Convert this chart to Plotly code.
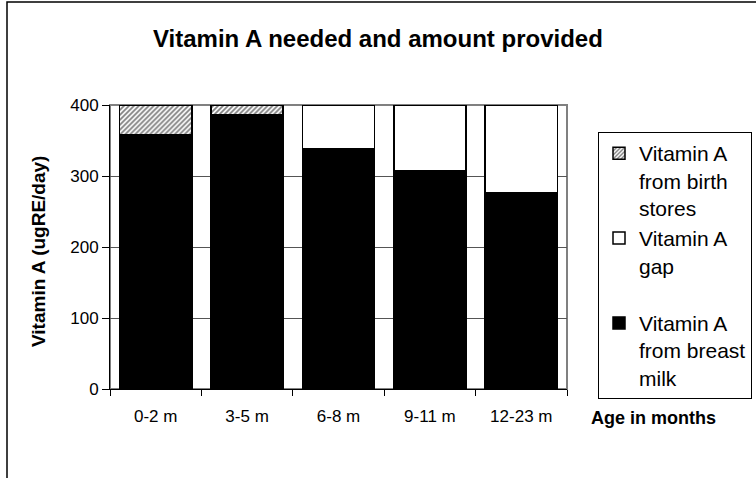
import plotly.graph_objects as go

categories = ["0-2 m", "3-5 m", "6-8 m", "9-11 m", "12-23 m"]
breast_milk = [358, 386, 338, 308, 276]
birth_stores = [42, 14, 0, 0, 0]
vit_gap = [0, 0, 62, 92, 124]
y_ticks = [0, 100, 200, 300, 400]

FONT = "Liberation Sans, Arial, sans-serif"
W, H = 756, 478
L, R, T, B = 110, 189, 105, 89
pw = W - L - R
ph = H - T - B

def px_x(px):
    return (px - L) / pw

def px_y(py):
    return (H - B - py) / ph

fig = go.Figure()
fig.add_trace(go.Bar(
    x=categories, y=breast_milk,
    name="Vitamin A<br>from breast<br>milk",
    marker=dict(color="black", line=dict(color="black", width=1.5)),
))
fig.add_trace(go.Bar(
    x=categories, y=vit_gap, name="Vitamin A<br>gap<br> ",
    marker=dict(color="white", line=dict(color="black", width=1.5)),
))
fig.add_trace(go.Bar(
    x=categories, y=birth_stores, name="Vitamin A<br>from birth<br>stores",
    marker=dict(color="white", line=dict(color="black", width=1.5),
                pattern=dict(shape="/", size=3.5, solidity=0.5,
                             fgcolor="black", bgcolor="white")),
))

fig.update_layout(
    width=W, height=H,
    margin=dict(l=L, r=R, t=T, b=B, autoexpand=False),
    barmode="stack", bargap=0.21,
    paper_bgcolor="white", plot_bgcolor="white",
    font=dict(family=FONT, size=17, color="black"),
    showlegend=True,
    legend=dict(
        x=px_x(598), y=px_y(132), xanchor="left", yanchor="top",
        xref="paper", yref="paper",
        traceorder="reversed", valign="top",
        bgcolor="white", bordercolor="black", borderwidth=1,
        font=dict(family=FONT, size=21, color="black"),
        tracegroupgap=0,
    ),
    xaxis=dict(
        type="category", showline=True, linecolor="black", linewidth=1,
        ticks="outside", ticklen=6, tickcolor="black", tickson="boundaries",
        showgrid=False, tickfont=dict(size=17), ticklabelstandoff=12,
    ),
    yaxis=dict(
        range=[0, 400], tickvals=y_ticks, showline=True, linecolor="black",
        linewidth=1, ticks="outside", ticklen=7, tickcolor="black",
        showgrid=True, gridcolor="#555555", gridwidth=1, zeroline=False,
        tickfont=dict(size=17),
    ),
    shapes=[
        dict(type="rect", xref="paper", yref="paper", x0=0, x1=1, y0=0, y1=1,
             line=dict(color="#808080", width=2), layer="below"),
        dict(type="rect", xref="paper", yref="paper",
             x0=px_x(7), x1=px_x(770), y0=px_y(490), y1=px_y(2),
             line=dict(color="black", width=1.5), fillcolor="rgba(0,0,0,0)",
             layer="above"),
    ],
    annotations=[
        dict(text="<b>Vitamin A needed and amount provided</b>",
             xref="paper", yref="paper", x=px_x(378), y=px_y(38),
             xanchor="center", yanchor="middle", showarrow=False,
             font=dict(size=24, family=FONT, color="black")),
        dict(text="<b>Vitamin A (ugRE/day)</b>", textangle=-90,
             xref="paper", yref="paper", x=px_x(38), y=px_y(252),
             xanchor="center", yanchor="middle", showarrow=False,
             font=dict(size=19, family=FONT, color="black")),
        dict(text="<b>Age in months</b>",
             xref="paper", yref="paper", x=px_x(589), y=px_y(418),
             xanchor="left", yanchor="middle", showarrow=False,
             font=dict(size=18, family=FONT, color="black")),
    ],
)

fig.write_html("out.html", config={"displayModeBar": False},
               post_script="document.body.style.margin='0';")
